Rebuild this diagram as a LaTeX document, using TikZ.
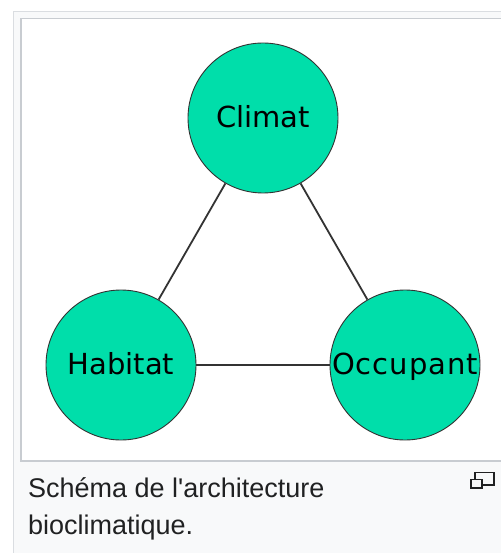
\documentclass[tikz,border=0pt]{standalone}
\usepackage{fontspec}
\newfontfamily\dejavu{DejaVu Sans}
\newfontfamily\dejavuwide[LetterSpace=3.4]{DejaVu Sans}
\newfontfamily\libsans{Liberation Sans}
\definecolor{framebg}{HTML}{F8F9FA}
\definecolor{frameline}{HTML}{DADDE1}
\definecolor{innerline}{HTML}{C8CCD1}
\definecolor{circfill}{HTML}{00DEAA}
\definecolor{edgecol}{HTML}{333333}
\definecolor{captext}{HTML}{202122}
\tikzset{
  circnode/.style={circle, fill=circfill, draw=edgecol, line width=0.9pt, minimum size=150pt, inner sep=0pt,
    text height=25pt, text depth=6pt,
    font=\dejavu\fontsize{29}{29}\selectfont, text=black},
  link/.style={draw=edgecol, line width=1.8pt},
  captxt/.style={anchor=base west, inner sep=0pt, font=\libsans\fontsize{27}{27}\selectfont, text=captext},
  iconbox/.style={draw=captext, line width=1.6pt, fill=framebg}
}
\begin{document}
\begin{tikzpicture}[x=1pt,y=-1pt]
\useasboundingbox (0,0) rectangle (500,553);
% frame
\fill[white] (0,0) rectangle (500,553);
\draw[frameline, fill=framebg, line width=1.5pt] (13.5,11.5) rectangle (520,580);
\draw[innerline, fill=white, line width=1.5pt] (21,18.5) rectangle (520,461);
% circles
\node[circnode] (C) at (263,118) {\makebox[0pt]{Climat}};
\node[circnode] (H) at (121,365) {\makebox[0pt]{Habitat}};
\node[circnode] (O) at (405,365) {\makebox[0pt]{\dejavuwide\fontsize{29}{29}\selectfont Occupant}};
\draw[link] (C) -- (H);
\draw[link] (C) -- (O);
\draw[link] (H) -- (O);
% caption
\node[captxt] (cap1) at (28,497) {Schéma de l'architecture};
\node[captxt] (cap2) at (28,534) {bioclimatique.};
% enlarge icon
\draw[iconbox] (475,472.5) rectangle (494,485);
\draw[iconbox] (471,479.5) rectangle (482,488);
\end{tikzpicture}
\end{document}
